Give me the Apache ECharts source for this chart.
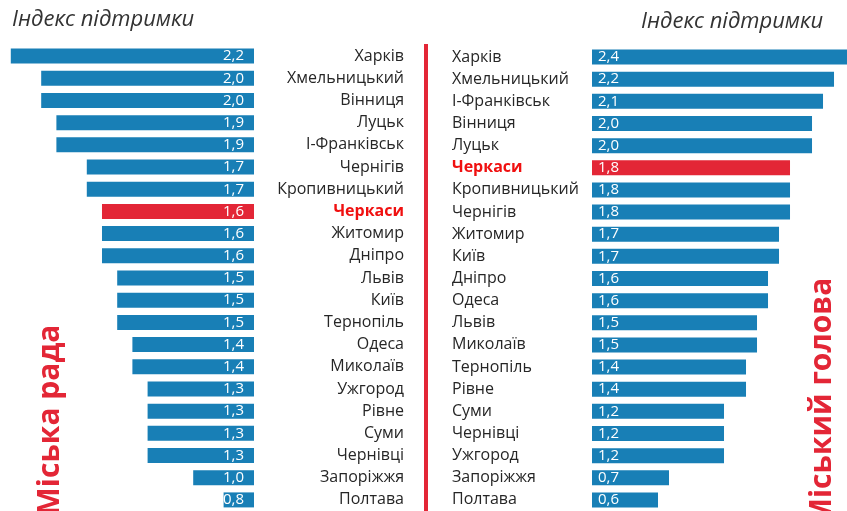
<!DOCTYPE html>
<html><head><meta charset="utf-8">
<script src="https://cdn.jsdelivr.net/npm/echarts@6/dist/echarts.min.js"></script>
<style>html,body{margin:0;padding:0;background:#fff}#c{width:847px;height:511px}</style>
</head><body><div id="c"></div>
<script>
const leftCities = ['Харків','Хмельницький','Вінниця','Луцьк','І-Франківськ','Чернігів','Кропивницький','Черкаси','Житомир','Дніпро','Львів','Київ','Тернопіль','Одеса','Миколаїв','Ужгород','Рівне','Суми','Чернівці','Запоріжжя','Полтава'];
const leftValues = [2.2,2.0,2.0,1.9,1.9,1.7,1.7,1.6,1.6,1.6,1.5,1.5,1.5,1.4,1.4,1.3,1.3,1.3,1.3,1.0,0.8];
const rightCities = ['Харків','Хмельницький','І-Франківськ','Вінниця','Луцьк','Черкаси','Кропивницький','Чернігів','Житомир','Київ','Дніпро','Одеса','Львів','Миколаїв','Тернопіль','Рівне','Суми','Чернівці','Ужгород','Запоріжжя','Полтава'];
const rightValues = [2.4,2.2,2.1,2.0,2.0,1.8,1.8,1.8,1.7,1.7,1.6,1.6,1.5,1.5,1.4,1.4,1.2,1.2,1.2,0.7,0.6];
const highlight = 'Черкаси';
const titleText = 'Індекс підтримки';
const leftSideText = 'Міська рада';
const rightSideText = 'Міський голова';

const BLUE = '#187fb6', RED = '#e32636', TXT = '#262626', FONT = 'Open Sans';
const fmt = v => v.toFixed(1).replace('.', ',');
const catLabel = (align, margin) => ({
  align: align, margin: margin, fontSize: 16, color: TXT, fontFamily: FONT,
  formatter: v => v === highlight ? '{h|' + v + '}' : v,
  rich: { h: { color: '#f01010', fontWeight: 'bold', fontSize: 16, fontFamily: FONT, align: align } }
});
const barData = (cities, vals) => vals.map((v, i) => ({ value: v, itemStyle: { color: cities[i] === highlight ? RED : BLUE } }));

const chart = echarts.init(document.getElementById('c'));
chart.setOption({
  animation: false,
  grid: [
    { left: 0, top: 45, width: 254, height: 469 },
    { left: 592, top: 46, width: 255, height: 469 }
  ],
  xAxis: [
    { gridIndex: 0, type: 'value', inverse: true, min: 0.6, max: 2.271, show: false },
    { gridIndex: 1, type: 'value', min: 0, max: 2.318, show: false }
  ],
  yAxis: [
    { gridIndex: 0, type: 'category', data: leftCities, inverse: true, position: 'right',
      axisLine: { show: false }, axisTick: { show: false }, axisLabel: catLabel('right', 150) },
    { gridIndex: 1, type: 'category', data: rightCities, inverse: true, position: 'left',
      axisLine: { show: false }, axisTick: { show: false }, axisLabel: catLabel('left', 140) }
  ],
  series: [
    { type: 'bar', xAxisIndex: 0, yAxisIndex: 0, barWidth: 15, data: barData(leftCities, leftValues),
      label: { show: true, position: 'insideRight', distance: 10, color: '#fff', fontSize: 15, fontFamily: FONT,
        formatter: p => fmt(p.value) } },
    { type: 'bar', xAxisIndex: 1, yAxisIndex: 1, barWidth: 15, data: barData(rightCities, rightValues),
      label: { show: true, position: 'insideLeft', distance: 6, color: '#fff', fontSize: 15, fontFamily: FONT,
        formatter: p => fmt(p.value) } }
  ],
  graphic: [
    { type: 'text', left: 12, top: 9, style: { text: titleText, font: 'italic 22px "Open Sans"', fill: '#333' } },
    { type: 'text', left: 641, top: 11, style: { text: titleText, font: 'italic 22px "Open Sans"', fill: '#333' } },
    { type: 'rect', shape: { x: 424, y: 44, width: 4, height: 470 }, style: { fill: RED } },
    { type: 'text', x: 50, y: 420, rotation: Math.PI / 2,
      style: { text: leftSideText, font: 'bold 30px "Open Sans"', fill: RED, align: 'center', verticalAlign: 'middle' } },
    { type: 'text', x: 822, y: 402, rotation: Math.PI / 2,
      style: { text: rightSideText, font: 'bold 30px "Open Sans"', fill: RED, align: 'center', verticalAlign: 'middle' } }
  ]
});
</script></body></html>
